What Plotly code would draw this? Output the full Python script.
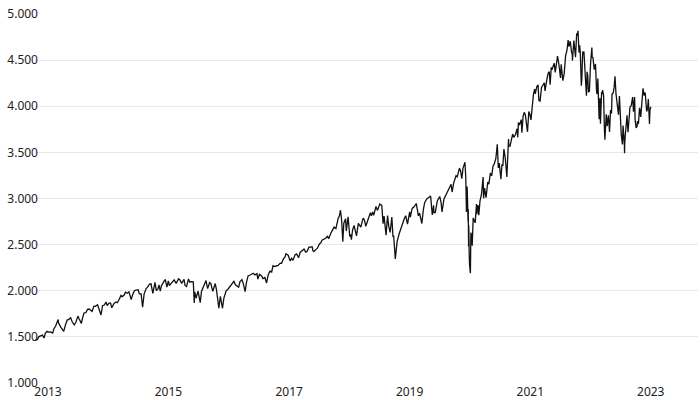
import plotly.graph_objects as go

d2013 = ["01-02","01-15","01-25","02-05","02-15","02-25","03-05","03-15","03-25","04-05","04-18","04-25","05-06","05-21","05-24","06-05","06-24","07-05","07-15","07-25","08-05","08-15","08-27","09-05","09-18","09-25","10-09","10-15","10-25","11-05","11-15","11-25","12-05","12-13","12-24"]
v2013 = [1462,1472,1503,1511,1519,1488,1540,1561,1552,1553,1541,1585,1618,1687,1649,1608,1560,1632,1682,1690,1707,1661,1630,1655,1725,1697,1646,1698,1759,1762,1798,1802,1785,1775,1833]

d2014 = ["01-02","01-15","01-24","02-05","02-14","02-25","03-07","03-14","03-25","04-04","04-11","04-25","05-07","05-15","05-27","06-06","06-13","06-24","07-03","07-15","07-24","08-07","08-15","08-26","09-05","09-18","09-25","10-06","10-15","10-24","11-05","11-14","11-26","12-05","12-16","12-29"]
v2014 = [1831,1848,1790,1737,1838,1845,1878,1839,1865,1865,1815,1863,1878,1870,1911,1949,1937,1950,1985,1973,1988,1904,1955,2000,2007,2011,1965,1965,1821,1964,2023,2039,2073,2075,1972,2090]

d2015 = ["01-06","01-16","01-22","01-30","02-06","02-17","02-25","03-02","03-11","03-20","03-26","04-06","04-15","04-24","05-06","05-21","05-28","06-09","06-23","06-29","07-08","07-20","07-28","08-05","08-18","08-24","08-27","09-04","09-16","09-29","10-07","10-15","10-26","11-03","11-13","11-25","12-02","12-14","12-29"]
v2015 = [2002,2019,2063,1995,2055,2100,2113,2117,2040,2108,2056,2080,2106,2117,2080,2131,2120,2080,2124,2057,2046,2128,2093,2099,2097,1867,1987,1921,1995,1872,1995,2023,2075,2110,2023,2088,2079,1993,2078]

d2016 = ["01-05","01-12","01-20","01-29","02-05","02-11","02-19","02-26","03-04","03-15","03-24","04-04","04-20","04-29","05-06","05-19","05-27","06-08","06-16","06-27","07-05","07-15","07-25","08-05","08-15","08-25","09-07","09-12","09-22","10-05","10-13","10-25","11-04","11-15","11-25","12-05","12-13","12-23"]
v2016 = [2016,1938,1812,1940,1880,1810,1918,1948,1999,2016,2035,2066,2102,2065,2057,2040,2099,2119,2077,1991,2088,2161,2168,2182,2190,2172,2186,2127,2177,2160,2132,2143,2084,2180,2213,2204,2272,2263]

d2017 = ["01-04","01-13","01-26","02-03","02-15","02-24","03-01","03-15","03-27","04-05","04-13","04-25","05-05","05-17","05-26","06-08","06-19","06-29","07-07","07-19","07-27","08-08","08-11","08-18","08-29","09-08","09-20","09-29","10-06","10-18","10-30","11-08","11-15","11-29","12-08","12-18","12-29"]
v2017 = [2270,2275,2299,2297,2349,2367,2400,2385,2322,2352,2329,2388,2399,2357,2415,2434,2453,2419,2425,2473,2475,2474,2438,2425,2446,2461,2508,2519,2549,2561,2572,2594,2564,2626,2651,2690,2674]

d2018 = ["01-05","01-12","01-19","01-26","02-02","02-05","02-09","02-15","02-26","03-02","03-09","03-13","03-23","03-28","04-02","04-09","04-18","04-25","05-03","05-14","05-29","06-12","06-20","06-28","07-05","07-17","07-26","08-01","08-09","08-15","08-29","09-07","09-21","10-03","10-11","10-17","10-24","10-29","11-07","11-14","11-23","12-03","12-10","12-14","12-24"]
v2018 = [2743,2786,2810,2873,2762,2648,2532,2732,2780,2647,2786,2802,2588,2610,2553,2656,2708,2639,2594,2730,2690,2787,2767,2699,2736,2809,2846,2813,2853,2818,2914,2871,2940,2925,2728,2809,2657,2603,2814,2701,2633,2800,2583,2599,2346]

d2019 = ["01-02","01-04","01-15","01-25","02-05","02-15","02-25","03-08","03-21","03-25","04-05","04-17","04-30","05-06","05-13","05-20","06-03","06-12","06-20","07-03","07-15","07-26","08-05","08-13","08-15","08-23","09-05","09-19","09-27","10-03","10-15","10-28","11-07","11-18","11-27","12-03","12-13","12-27"]
v2019 = [2510,2532,2610,2665,2737,2775,2813,2722,2855,2798,2892,2910,2946,2860,2812,2840,2729,2880,2958,2996,3014,3026,2822,2926,2847,2847,2976,3022,2962,2855,2995,3039,3085,3122,3154,3070,3170,3247]

d2020 = ["01-03","01-17","01-24","01-31","02-07","02-19","02-24","02-28","03-03","03-05","03-09","03-10","03-12","03-13","03-16","03-18","03-23","03-26","03-31","04-03","04-09","04-21","04-29","05-01","05-08","05-13","05-20","05-29","06-08","06-11","06-17","06-26","07-06","07-13","07-22","07-30","08-07","08-14","08-24","09-02","09-08","09-14","09-24","09-30","10-06","10-12","10-20","10-30","11-09","11-11","11-18","11-27","12-04","12-11","12-21","12-31"]
v2020 = [3235,3330,3295,3214,3327,3393,3225,2855,3130,3024,2747,2882,2480,2711,2386,2280,2191,2630,2584,2489,2790,2736,2939,2830,2929,2820,2971,3044,3232,3002,3113,3009,3179,3155,3276,3246,3351,3372,3431,3588,3332,3383,3209,3363,3361,3535,3443,3233,3645,3572,3567,3638,3699,3663,3694,3756]

d2021 = ["01-04","01-08","01-14","01-25","01-29","02-05","02-12","02-19","02-25","03-04","03-12","03-18","03-25","03-31","04-09","04-16","04-20","04-29","05-07","05-12","05-19","05-28","06-04","06-14","06-18","06-25","06-30","07-07","07-14","07-19","07-26","07-30","08-06","08-13","08-19","08-27","09-02","09-10","09-20","09-24","10-04","10-12","10-21","10-29","11-05","11-10","11-18","11-26","11-30","12-01","12-10","12-20","12-27","12-31"]
v2021 = [3663,3824,3795,3855,3714,3887,3934,3906,3829,3723,3943,3915,3853,3973,4128,4185,4134,4211,4232,4063,4056,4204,4229,4255,4166,4280,4297,4358,4374,4233,4422,4395,4436,4468,4367,4509,4545,4458,4306,4455,4278,4351,4549,4605,4718,4646,4705,4585,4567,4495,4712,4532,4791,4766]

d2022 = ["01-04","01-10","01-14","01-18","01-24","01-25","01-27","01-31","02-02","02-09","02-14","02-16","02-18","02-24","02-28","03-04","03-08","03-14","03-21","03-29","03-31","04-05","04-12","04-20","04-26","04-29","05-04","05-09","05-12","05-17","05-20","05-27","05-31","06-02","06-08","06-13","06-16","06-24","06-30","07-07","07-14","07-20","07-26","07-29","08-05","08-11","08-16","08-22","08-26","08-31","09-06","09-12","09-16","09-23","09-30","10-04","10-12","10-13","10-14","10-17","10-21","10-28","11-03","11-10","11-15","11-22","11-30","12-01","12-06","12-13","12-16","12-22","12-28","12-30"]
v2022 = [4818,4582,4662,4577,4222,4357,4290,4516,4589,4587,4364,4475,4348,4114,4374,4329,4157,4161,4461,4637,4530,4525,4397,4459,4175,4132,4300,3991,3859,4088,3810,4158,4132,4176,4115,3750,3636,3912,3785,3903,3722,3960,3921,4130,4145,4207,4325,4138,4057,3955,3908,4110,3873,3693,3586,3791,3577,3491,3583,3677,3752,3901,3720,3956,3992,4003,4080,4100,3941,4100,3852,3765,3783,3840]

d2023 = ["01-05","01-12","01-19","01-27","02-02","02-08","02-15","02-24","03-02","03-06","03-10","03-13","03-16","03-21"]
v2023 = [3808,3983,3885,4071,4195,4117,4148,3943,3982,4078,3862,3808,3960,3995]

years = [2013, 2014, 2015, 2016, 2017, 2018, 2019, 2020, 2021, 2022, 2023]
day_lists = [d2013, d2014, d2015, d2016, d2017, d2018, d2019, d2020, d2021, d2022, d2023]
val_lists = [v2013, v2014, v2015, v2016, v2017, v2018, v2019, v2020, v2021, v2022, v2023]

y_ticks = [1000, 1500, 2000, 2500, 3000, 3500, 4000, 4500, 5000]

dates, values = [], []
for yr, ds, vs in zip(years, day_lists, val_lists):
    for d, v in zip(ds, vs):
        dates.append(f"{yr}-{d}")
        values.append(v)

fig = go.Figure(go.Scatter(
    x=dates, y=values, mode="lines",
    line=dict(color="#111111", width=1.3),
    hoverinfo="x+y",
))

font_family = "Noto Sans, Open Sans, DejaVu Sans, sans-serif"
fig.update_layout(
    width=700, height=400,
    margin=dict(l=35, r=2, t=14, b=17, autoexpand=False),
    paper_bgcolor="white", plot_bgcolor="white",
    separators=",.",
    showlegend=False,
    font=dict(family=font_family, size=12, color="#333333"),
)
fig.update_xaxes(
    type="date",
    range=["2013-01-01", "2024-01-01"],
    tick0="2013-01-01", dtick="M24", tickformat="%Y",
    showgrid=False, zeroline=False, showline=False, ticks="",
    ticklabelshift=13, ticklabelstandoff=0,
    automargin=False,
    tickfont=dict(size=12, color="#222222"),
)
fig.update_yaxes(
    range=[999.8, 5000.2],
    tickvals=y_ticks, tickformat=",.0f",
    showgrid=True, gridcolor="#e8e8e8", gridwidth=1,
    zeroline=False, showline=False, ticks="",
    ticklabelstandoff=-4, ticklabeloverflow="allow",
    automargin=False,
    tickfont=dict(size=12, color="#222222"),
)

# remove the default 8px page margin so the 700x400 figure fills the window exactly
fig.write_html(
    "out.html",
    config={"displayModeBar": False},
    post_script="document.body.style.margin='0';document.body.style.overflow='hidden';",
)
